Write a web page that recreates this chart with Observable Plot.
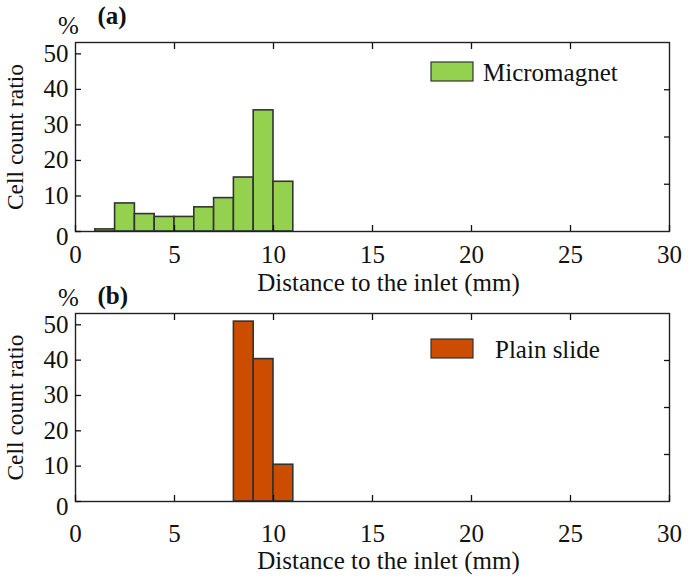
<!DOCTYPE html>
<html>
<head>
<meta charset="utf-8">
<script src="https://cdn.jsdelivr.net/npm/d3@7"></script>
<script src="https://cdn.jsdelivr.net/npm/@observablehq/plot@0.6"></script>
<style>
  html, body { margin: 0; padding: 0; background: white; }
  #chart { position: relative; width: 693px; height: 580px; }
  #chart svg { display: block; font-family: "Liberation Serif", "Times New Roman", serif !important; }
  #chart svg text { font-family: "Liberation Serif", "Times New Roman", serif !important; }
</style>
</head>
<body>
<div id="chart"></div>
<script>
// ---- data ----
const micromagnetBinStart = [1, 2, 3, 4, 5, 6, 7, 8, 9, 10];
const micromagnetBinEnd   = [2, 3, 4, 5, 6, 7, 8, 9, 10, 11];
const micromagnetRatio    = [0.6, 7.9, 4.9, 4.1, 4.1, 6.8, 9.4, 15.2, 34.1, 14.0];

const plainBinStart = [8, 9, 10];
const plainBinEnd   = [9, 10, 11];
const plainRatio    = [50.9, 40.3, 10.4];

const xTicks = [0, 5, 10, 15, 20, 25, 30];
const xTopTicks = [5, 10, 15, 20, 25];
const yTicks = [0, 10, 20, 30, 40, 50];
const yRightTicks = [13.3, 26.6, 39.9];
const xDomain = [0, 30];
const yDomain = [0, 53.2];

const panelTags = ["(a)", "(b)"];
const seriesNames = ["Micromagnet", "Plain slide"];
const seriesColors = ["#93d14f", "#cc4c00"];
const xTitle = "Distance to the inlet (mm)";
const yTitle = "Cell count ratio";
const yUnit = "%";

function rows(lo, hi, v) {
  return lo.map((d, i) => ({x1: d, x2: hi[i], v: v[i]}));
}

function panel(cfg) {
  const data = rows(cfg.lo, cfg.hi, cfg.vals);
  const svg = Plot.plot({
    width: 693,
    height: 290,
    marginTop: cfg.mt,
    marginBottom: cfg.mb,
    marginLeft: 75,
    marginRight: 24,
    style: {fontFamily: "Liberation Serif", fontSize: "25px", color: "#111", background: "white", overflow: "visible"},
    x: {domain: xDomain},
    y: {domain: yDomain},
    marks: [
      Plot.rectY(data, {x1: "x1", x2: "x2", y: "v", fill: cfg.color, stroke: "#333", strokeWidth: 1.6}),
      Plot.frame({stroke: "#222", strokeWidth: 1.4}),
      Plot.axisY({ticks: yTicks, tickSize: -6, tickFormat: () => "", label: null, strokeWidth: 1.3}),
      Plot.axisY({ticks: yTicks.filter(d => d !== 0), tickSize: 0, tickPadding: 7, label: null}),
      Plot.axisY({ticks: [0], tickSize: 0, tickPadding: 7, dy: 5, label: null}),
      Plot.axisY({anchor: "right", ticks: yRightTicks, tickSize: -6, tickFormat: () => "", label: null, strokeWidth: 1.3}),
      Plot.axisX({ticks: xTicks, tickSize: -6, tickPadding: cfg.xPad, label: null, strokeWidth: 1.3}),
      Plot.axisX({anchor: "top", ticks: xTopTicks, tickSize: -6, tickFormat: () => "", label: null, strokeWidth: 1.3}),
      Plot.text([xTitle], {frameAnchor: "bottom", dx: 16, dy: cfg.xTitleDy, lineAnchor: "bottom", fill: "#111"}),
      Plot.text([yTitle], {frameAnchor: "left", dx: -60, rotate: -90, lineAnchor: "middle", textAnchor: "middle", fill: "#111", fontSize: 23.5}),
      Plot.text([yUnit], {frameAnchor: "top-left", dx: -7, dy: cfg.unitDy, lineAnchor: "bottom", textAnchor: "middle", fill: "#111"}),
      Plot.text([cfg.tag], {frameAnchor: "top-left", dx: 22, dy: cfg.tagDy, lineAnchor: "bottom", textAnchor: "start", fontWeight: "bold", fill: "#111"})
    ]
  });
  // legend inside the frame
  const g = d3.select(svg).append("g");
  g.append("rect").attr("x", 431).attr("y", cfg.legTop).attr("width", 42).attr("height", 19)
    .attr("fill", cfg.color).attr("stroke", "#333").attr("stroke-width", 1.2);
  g.append("text").attr("x", cfg.legTextX).attr("y", cfg.legTop + 18.5)
    .attr("text-anchor", "start")
    .attr("font-size", 25).attr("fill", "#111").text(cfg.name);
  return svg;
}

const chart = document.getElementById("chart");
chart.append(panel({
  lo: micromagnetBinStart, hi: micromagnetBinEnd, vals: micromagnetRatio,
  color: seriesColors[0], name: seriesNames[0], tag: panelTags[0],
  mt: 42, mb: 59, xPad: 20, xTitleDy: 59, unitDy: -9, tagDy: -19,
  legTop: 62, legTextX: 483
}));
chart.append(panel({
  lo: plainBinStart, hi: plainBinEnd, vals: plainRatio,
  color: seriesColors[1], name: seriesNames[1], tag: panelTags[1],
  mt: 23, mb: 79, xPad: 29, xTitleDy: 67, unitDy: -8, tagDy: -10,
  legTop: 49, legTextX: 495
}));
</script>
</body>
</html>
